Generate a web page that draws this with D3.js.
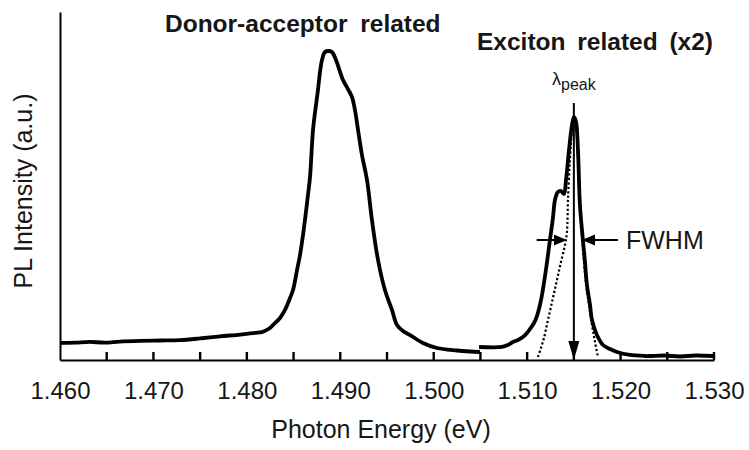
<!DOCTYPE html>
<html>
<head>
<meta charset="utf-8">
<script src="https://cdn.jsdelivr.net/npm/d3@7"></script>
<style>
  html, body { margin: 0; padding: 0; background: #fff; }
  svg { display: block; font-family: "Liberation Sans", Arial, sans-serif; }
</style>
</head>
<body>
<svg id="chart" width="749" height="450"></svg>
<script>
// ---- data (photon energy in eV, PL intensity in a.u.) ----
const daEnergy = [1.4600,1.4616,1.4632,1.4648,1.4664,1.4686,1.4707,1.4728,1.4750,1.4771,1.4793,1.4809,1.4816,1.4823,1.4828,1.48355,1.48408,1.48462,1.48494,1.48537,1.48569,1.48601,1.48622,1.48654,1.48676,1.48708,1.48740,1.48761,1.48783,1.48804,1.48836,1.48879,1.48911,1.48954,1.49029,1.49082,1.49125,1.49157,1.49190,1.49232,1.49286,1.49339,1.49404,1.49478,1.49553,1.49607,1.49671,1.49746,1.49885,1.50035,1.50249,1.50388,1.50495];
const daIntensity = [4.9,5.0,5.2,5.0,5.3,5.5,5.6,5.7,6.2,6.8,7.3,7.8,8.0,8.9,10.06,12.07,14.37,17.82,20.11,25.86,30.17,35.92,40.23,47.41,52.59,66.09,73.28,77.59,82.76,86.21,88.51,88.79,88.51,86.21,80.46,77.87,75.57,71.84,66.09,58.91,51.72,40.23,28.74,20.11,14.37,10.06,8.33,7.18,4.89,3.45,2.73,2.44,2.30];

const exEnergy = [1.50485,1.50731,1.50795,1.50848,1.50902,1.50955,1.50998,1.51030,1.51073,1.51105,1.51137,1.51159,1.51180,1.51201,1.51223,1.51244,1.51276,1.51298,1.51330,1.51362,1.51394,1.51416,1.51448,1.51480,1.51501,1.51523,1.51544,1.51565,1.51597,1.51619,1.51640,1.51673,1.51694,1.51747,1.51812,1.51887,1.51961,1.52100,1.52261,1.52314,1.52475,1.52636,1.52796,1.53000];
const exIntensity = [3.74,3.74,4.31,5.17,5.75,6.61,7.76,8.91,10.63,12.64,15.80,18.68,22.13,25.86,30.17,34.48,40.80,45.98,48.28,48.56,47.70,51.72,60.34,67.53,69.83,68.39,60.34,44.54,34.48,28.16,21.55,15.80,11.49,7.18,4.31,3.16,2.30,1.44,1.15,1.15,1.29,1.01,1.29,1.15];

const fitEnergy = [1.51116,1.51148,1.51180,1.51223,1.51276,1.51319,1.51362,1.51405,1.51426,1.51437,1.51458,1.51480,1.51501,1.51523,1.51544,1.51565,1.51587,1.51608,1.51630,1.51662,1.51694,1.51726,1.51758];
const fitIntensity = [0.86,3.45,6.32,11.49,17.82,22.99,28.16,33.05,36.78,45.98,57.47,66.09,69.54,67.53,57.47,45.98,35.92,28.16,22.13,15.80,10.06,5.17,0.86];

const xTicks = [1.465,1.470,1.475,1.480,1.485,1.490,1.495,1.500,1.505,1.510,1.515,1.520,1.525,1.530];
const xLabels = [1.460,1.470,1.480,1.490,1.500,1.510,1.520,1.530];

const peakEnergy = 1.5150;
const peakArrowTop = 73.85;
const fwhmLevel = 34.48;
const fwhmLeft = [1.51102, 1.51426];
const fwhmRight = [1.51587, 1.51972];

// ---- layout ----
const svg = d3.select("#chart");
const x = d3.scaleLinear().domain([1.460, 1.530]).range([60, 714]);
const y = d3.scaleLinear().domain([0, 100]).range([360, 12]);
const textColor = "#161616";

// x axis labels via d3 axis
const xAxis = d3.axisBottom(x)
  .tickValues(xLabels)
  .tickSize(0)
  .tickPadding(22)
  .tickFormat(d3.format(".3f"));
const gx = svg.append("g").attr("transform", "translate(0,360)").call(xAxis);
gx.select(".domain").attr("stroke", "#000").attr("stroke-width", 2);
gx.selectAll(".tick text")
  .attr("fill", textColor)
  .attr("font-size", 24)
  .attr("font-family", "Liberation Sans, Arial, sans-serif");

// y axis (no ticks)
const yAxis = d3.axisLeft(y).tickValues([]).tickSizeOuter(0);
const gy = svg.append("g").attr("transform", "translate(60,0)").call(yAxis);
gy.select(".domain").attr("stroke", "#000").attr("stroke-width", 2);

// axis titles
svg.append("text")
  .attr("x", 381).attr("y", 438)
  .attr("text-anchor", "middle")
  .attr("font-size", 25).attr("fill", textColor)
  .text("Photon Energy (eV)");
svg.append("text")
  .attr("transform", "translate(32,191) rotate(-90)")
  .attr("text-anchor", "middle")
  .attr("font-size", 25).attr("fill", textColor)
  .text("PL Intensity (a.u.)");

// curves
const line = d3.line().x(d => x(d[0])).y(d => y(d[1])).curve(d3.curveCatmullRom.alpha(0.5));
const daData = daEnergy.map((e, i) => [e, daIntensity[i]]);
const exData = exEnergy.map((e, i) => [e, exIntensity[i]]);
const fitData = fitEnergy.map((e, i) => [e, fitIntensity[i]]);

svg.append("path").datum(fitData).attr("d", line)
  .attr("fill", "none").attr("stroke", "#000").attr("stroke-width", 2.2)
  .attr("stroke-dasharray", "2.2,2.2");

[daData, exData].forEach(data => {
  svg.append("path").datum(data).attr("d", line)
    .attr("fill", "none").attr("stroke", "#000").attr("stroke-width", 3.8)
    .attr("stroke-linejoin", "round").attr("stroke-linecap", "butt");
});

// lambda_peak arrow
const px = x(peakEnergy);
svg.append("line")
  .attr("x1", px).attr("x2", px)
  .attr("y1", y(peakArrowTop)).attr("y2", y(0) - 14)
  .attr("stroke", "#000").attr("stroke-width", 2);
svg.append("path")
  .attr("d", `M${px - 5.5},${y(0) - 19} L${px + 5.5},${y(0) - 19} L${px},${y(0)} Z`)
  .attr("fill", "#000");

// FWHM arrows
const fy = y(fwhmLevel);
svg.append("line")
  .attr("x1", x(fwhmLeft[0])).attr("x2", x(fwhmLeft[1]) - 8)
  .attr("y1", fy).attr("y2", fy).attr("stroke", "#000").attr("stroke-width", 2);
svg.append("path")
  .attr("d", `M${x(fwhmLeft[1]) - 13},${fy - 5.5} L${x(fwhmLeft[1])},${fy} L${x(fwhmLeft[1]) - 13},${fy + 5.5} Z`)
  .attr("fill", "#000");
svg.append("line")
  .attr("x1", x(fwhmRight[0]) + 8).attr("x2", x(fwhmRight[1]))
  .attr("y1", fy).attr("y2", fy).attr("stroke", "#000").attr("stroke-width", 2);
svg.append("path")
  .attr("d", `M${x(fwhmRight[0]) + 13},${fy - 5.5} L${x(fwhmRight[0])},${fy} L${x(fwhmRight[0]) + 13},${fy + 5.5} Z`)
  .attr("fill", "#000");

svg.append("text")
  .attr("x", 626).attr("y", fy + 9)
  .attr("font-size", 25).attr("fill", textColor)
  .text("FWHM");

// lambda peak label
const lam = svg.append("text")
  .attr("x", 552).attr("y", 85)
  .attr("fill", textColor);
lam.append("tspan").attr("font-size", 18).text("λ");
lam.append("tspan").attr("font-size", 16).attr("dy", 5).text("peak");

// section titles
svg.append("text")
  .attr("x", 165).attr("y", 32)
  .attr("font-size", 24.5).attr("font-weight", "bold").attr("fill", textColor)
  .attr("word-spacing", 6)
  .text("Donor-acceptor related");
svg.append("text")
  .attr("x", 477).attr("y", 50)
  .attr("font-size", 24.5).attr("font-weight", "bold").attr("fill", textColor)
  .attr("word-spacing", 5)
  .text("Exciton related (x2)");

// inward tick marks (drawn last, on top)
svg.append("g")
  .selectAll("rect").data(xTicks).join("rect")
  .attr("x", d => x(d) - 1.2)
  .attr("y", y(0) - 8)
  .attr("width", 2.4)
  .attr("height", 8)
  .attr("fill", "#000");
</script>
</body>
</html>
